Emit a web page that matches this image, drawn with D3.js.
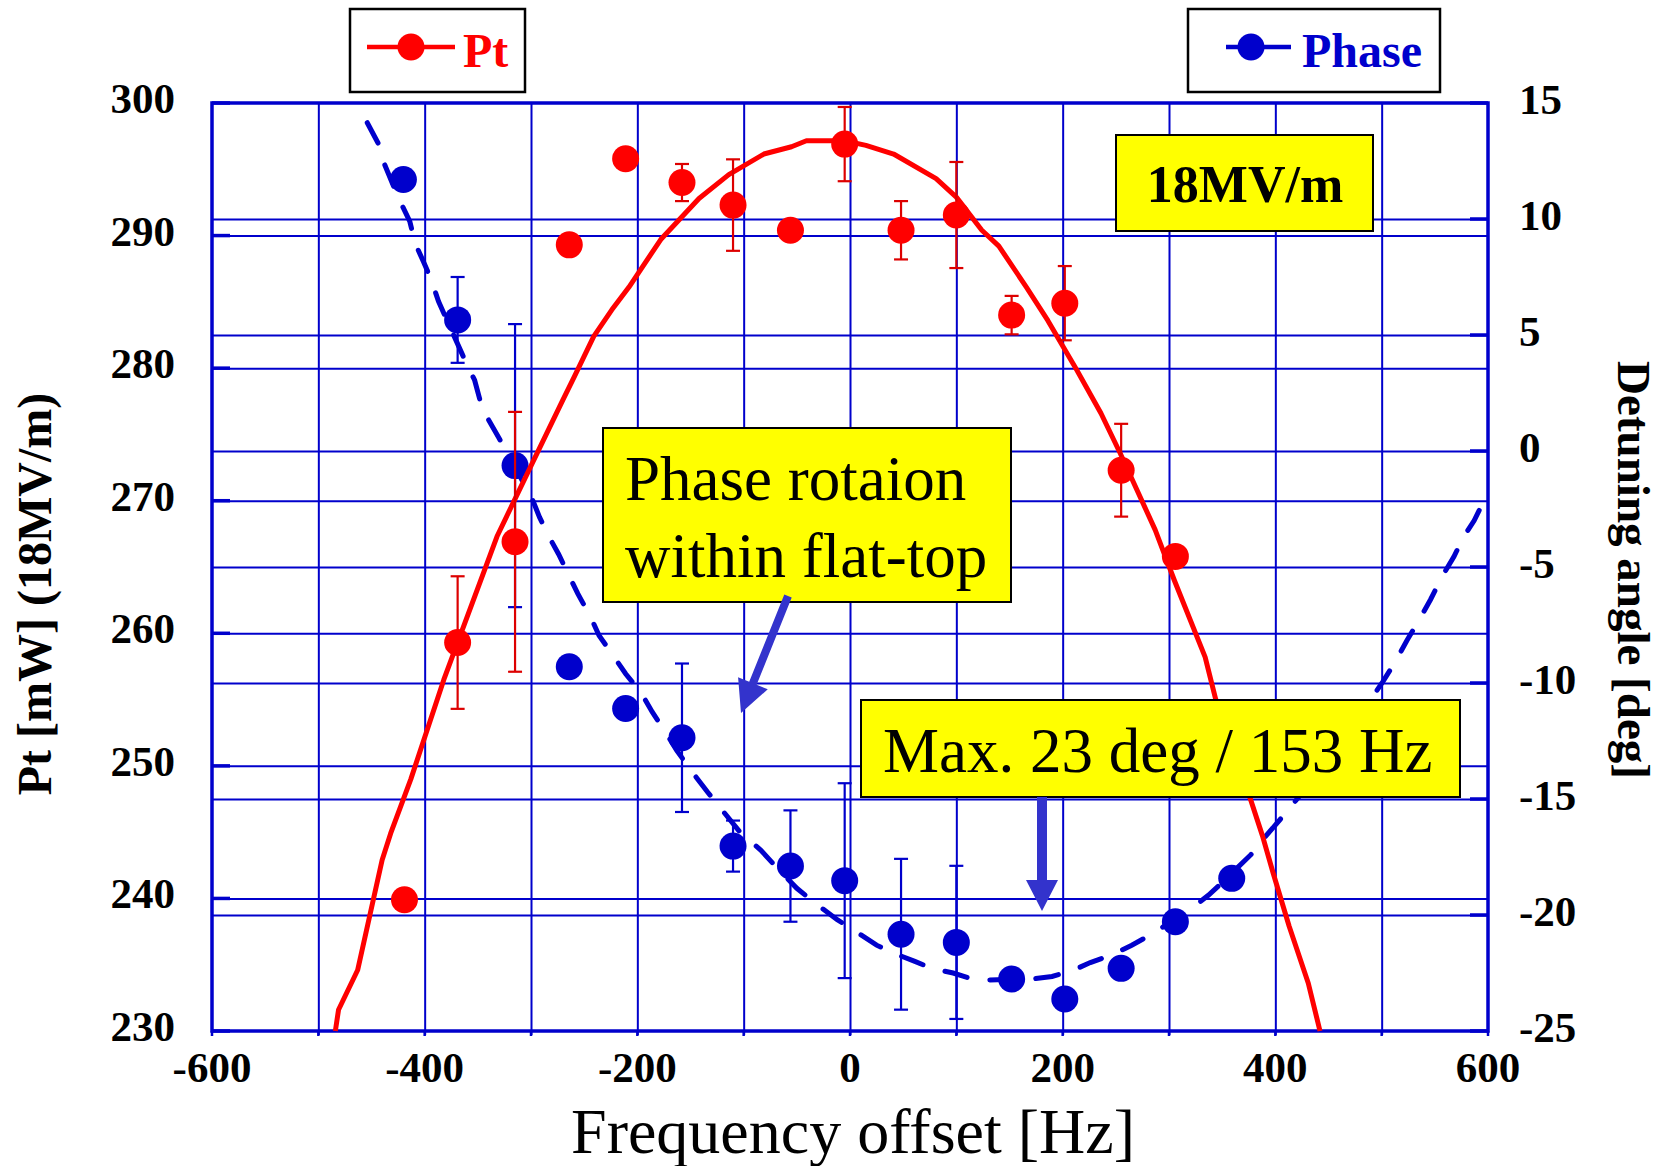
<!DOCTYPE html>
<html><head><meta charset="utf-8">
<script src="https://cdn.jsdelivr.net/npm/d3@7"></script>
<style>
html,body{margin:0;padding:0;background:#fff;}
svg{display:block;font-family:"Liberation Serif","Times New Roman",serif;}
</style></head>
<body><svg id="c" width="1663" height="1166"></svg>
<script>
// ---- data ----
const xTicks = [-600,-400,-200,0,200,400,600];
const xGrid = [-500,-400,-300,-200,-100,0,100,200,300,400,500];
const leftTicks = [230,240,250,260,270,280,290,300];
const rightTicks = [-25,-20,-15,-10,-5,0,5,10,15];

const ptX   = [-419,-369,-315,-264,-211,-158,-110,-56,-5,48,100,152,202,255,306];
const ptY   = [239.9,259.3,266.9,289.3,295.8,294.0,292.3,290.4,296.9,290.4,291.55,284.0,284.9,272.3,265.8];
const ptErr = [0,5.0,9.8,0,0,1.4,3.45,0,2.8,2.2,4.0,1.45,2.8,3.5,0];

const phX   = [-420,-369,-315,-264,-211,-158,-110,-56,-5,48,100,152,202,255,306,359];
const phY   = [11.7,5.65,-0.63,-9.3,-11.1,-12.36,-17.03,-17.89,-18.52,-20.83,-21.18,-22.76,-23.62,-22.3,-20.29,-18.42];
const phErr = [0,1.85,6.1,0,0,3.2,1.1,2.4,4.2,3.25,3.3,0,0,0,0,0];

const fitPtX = [-484,-481,-463,-440,-432,-413,-382,-332,-299,-270,-259,-241,-224,-208,-178,-142,-114,-81,-55,-41,-5,15,41,81,100,124,140,166,186,213,236,254,287,305,334,344,377,388,398,413,431,442];
const fitPtY = [230,231.6,234.6,242.9,244.9,249,256.5,267.3,272.8,277.6,279.4,282.4,284.4,286.1,289.7,292.8,294.6,296.15,296.7,297.15,297.15,296.8,296.15,294.3,292.9,290.4,289.2,286.1,283.6,279.9,276.6,273.6,267.8,264,258.2,255,247.4,244.7,241.9,237.9,233.6,230];

const fitPhX = [-454,-443,-439,-430,-423,-414,-409,-401,-394,-387,-362,-353,-348,-340,-330,-299,-292,-283,-274,-264,-256,-244,-236,-223,-211,-196,-186,-173,-163,-149,-134,-119,-104,-84,-68,-50,-31,-12,5,25,44,61,77,97,114,130,173,190,209,226,247,265,283,319,337,350,377,391,407,424,490,501,512,524,535,546,557,568,577,587,595,598];
const fitPhY = [14.15,13.2,12.5,11.5,10.75,9.9,8.95,8.15,7.4,6.45,3.9,3.05,2.2,1.35,0.55,-2.05,-2.85,-3.7,-4.45,-5.4,-6.15,-7.15,-7.95,-8.8,-9.6,-10.45,-11.25,-12.15,-12.9,-13.8,-14.7,-15.55,-16.4,-17.2,-18,-18.85,-19.55,-20.2,-20.7,-21.3,-21.7,-22,-22.3,-22.5,-22.75,-22.8,-22.75,-22.65,-22.4,-22.05,-21.7,-21.3,-20.85,-19.8,-19.15,-18.6,-17.4,-16.6,-15.75,-14.8,-10.7,-9.95,-9.15,-8.15,-7.3,-6.4,-5.4,-4.55,-3.7,-3,-2.25,-1.8];

// ---- layout ----
const L=212, R=1488, T=103, B=1031;
const BLUE="#0000cc", RED="#ff0000", RED_ERR="#dd0000", ARROW="#3333cc";
const svg = d3.select("#c");
const x = d3.scaleLinear().domain([-600,600]).range([L,R]);
const yL = d3.scaleLinear().domain([230,300]).range([B,T]);
const yR = d3.scaleLinear().domain([-25,15]).range([B,T]);

// grid via axes
const gx = svg.append("g").attr("transform",`translate(0,${B})`)
  .call(d3.axisBottom(x).tickValues(xGrid).tickSize(-(B-T)).tickSizeOuter(0).tickFormat(""));
gx.selectAll("line").attr("stroke",BLUE).attr("stroke-width",2).attr("y2",-(B-T)).attr("y1",4);
gx.select(".domain").remove();
const gl = svg.append("g").attr("transform",`translate(${L},0)`)
  .call(d3.axisLeft(yL).tickValues(leftTicks.slice(1,-1)).tickSize(-(R-L)).tickSizeOuter(0).tickFormat(""));
gl.selectAll("line").attr("stroke",BLUE).attr("stroke-width",2);
gl.select(".domain").remove();
const gr = svg.append("g").attr("transform",`translate(${R},0)`)
  .call(d3.axisRight(yR).tickValues(rightTicks.slice(1,-1)).tickSize(-(R-L)).tickSizeOuter(0).tickFormat(""));
gr.selectAll("line").attr("stroke",BLUE).attr("stroke-width",2);
gr.select(".domain").remove();
// inward tick stubs
svg.append("g").selectAll("line").data(leftTicks).join("line")
  .attr("x1",L).attr("x2",L+18).attr("y1",d=>yL(d)).attr("y2",d=>yL(d))
  .attr("stroke",BLUE).attr("stroke-width",3.5);
svg.append("g").selectAll("line").data(rightTicks).join("line")
  .attr("x1",R-18).attr("x2",R).attr("y1",d=>yR(d)).attr("y2",d=>yR(d))
  .attr("stroke",BLUE).attr("stroke-width",3.5);
// border
svg.append("rect").attr("x",L).attr("y",T).attr("width",R-L).attr("height",B-T)
  .attr("fill","none").attr("stroke",BLUE).attr("stroke-width",3.5);
svg.append("g").selectAll("line").data(xGrid.concat([-600,600])).join("line")
  .attr("x1",d=>x(d)).attr("x2",d=>x(d)).attr("y1",B).attr("y2",B+5)
  .attr("stroke",BLUE).attr("stroke-width",2.5);

// tick labels
svg.append("g").selectAll("text").data(xTicks).join("text")
  .attr("x",d=>x(d)).attr("y",1082).attr("text-anchor","middle")
  .attr("font-size",43).attr("font-weight","bold").text(d=>String(d));
svg.append("g").selectAll("text").data(leftTicks).join("text")
  .attr("x",175).attr("y",d=>yL(d)+10).attr("text-anchor","end")
  .attr("font-size",43).attr("font-weight","bold").text(d=>String(d));
svg.append("g").selectAll("text").data(rightTicks).join("text")
  .attr("x",1519).attr("y",d=>yR(d)+11).attr("text-anchor","start")
  .attr("font-size",43).attr("font-weight","bold").text(d=>String(d));

// axis titles
svg.append("text").attr("x",853).attr("y",1153).attr("text-anchor","middle")
  .attr("font-size",64).text("Frequency offset [Hz]");
svg.append("text").attr("transform","translate(51,594) rotate(-90)").attr("text-anchor","middle")
  .attr("font-size",48).attr("font-weight","bold").text("Pt [mW] (18MV/m)");
svg.append("text").attr("transform","translate(1618,570) rotate(90)").attr("text-anchor","middle")
  .attr("font-size",47).attr("font-weight","bold").text("Detuning angle [deg]");

// ---- phase series ----
const phFit = fitPhX.map((v,i)=>[v,fitPhY[i]]);
svg.append("path").datum(phFit)
  .attr("d",d3.line().x(d=>x(d[0])).y(d=>yR(d[1])).curve(d3.curveLinear))
  .attr("fill","none").attr("stroke",BLUE).attr("stroke-width",5)
  .attr("stroke-dasharray","23,23").attr("stroke-linecap","round");
const phPts = phX.map((v,i)=>({x:v,y:phY[i],e:phErr[i]}));
const phE = svg.append("g").selectAll("g").data(phPts.filter(d=>d.e>0)).join("g")
  .attr("stroke",BLUE).attr("stroke-width",2.2);
phE.append("line").attr("x1",d=>x(d.x)).attr("x2",d=>x(d.x)).attr("y1",d=>yR(d.y+d.e)).attr("y2",d=>yR(d.y-d.e));
phE.append("line").attr("x1",d=>x(d.x)-7).attr("x2",d=>x(d.x)+7).attr("y1",d=>yR(d.y+d.e)).attr("y2",d=>yR(d.y+d.e));
phE.append("line").attr("x1",d=>x(d.x)-7).attr("x2",d=>x(d.x)+7).attr("y1",d=>yR(d.y-d.e)).attr("y2",d=>yR(d.y-d.e));
svg.append("g").selectAll("circle").data(phPts).join("circle")
  .attr("cx",d=>x(d.x)).attr("cy",d=>yR(d.y)).attr("r",13.5).attr("fill",BLUE);

// ---- Pt series ----
const ptFit = fitPtX.map((v,i)=>[v,fitPtY[i]]);
svg.append("path").datum(ptFit)
  .attr("d",d3.line().x(d=>x(d[0])).y(d=>yL(d[1])).curve(d3.curveLinear))
  .attr("fill","none").attr("stroke",RED).attr("stroke-width",5).attr("stroke-linejoin","round");
const ptPts = ptX.map((v,i)=>({x:v,y:ptY[i],e:ptErr[i]}));
const ptE = svg.append("g").selectAll("g").data(ptPts.filter(d=>d.e>0)).join("g")
  .attr("stroke",RED_ERR).attr("stroke-width",2.2);
ptE.append("line").attr("x1",d=>x(d.x)).attr("x2",d=>x(d.x)).attr("y1",d=>yL(d.y+d.e)).attr("y2",d=>yL(d.y-d.e));
ptE.append("line").attr("x1",d=>x(d.x)-7).attr("x2",d=>x(d.x)+7).attr("y1",d=>yL(d.y+d.e)).attr("y2",d=>yL(d.y+d.e));
ptE.append("line").attr("x1",d=>x(d.x)-7).attr("x2",d=>x(d.x)+7).attr("y1",d=>yL(d.y-d.e)).attr("y2",d=>yL(d.y-d.e));
svg.append("g").selectAll("circle").data(ptPts).join("circle")
  .attr("cx",d=>x(d.x)).attr("cy",d=>yL(d.y)).attr("r",13.5).attr("fill",RED);

// ---- annotations ----
function box(x0,y0,x1,y1){
  svg.append("rect").attr("x",x0).attr("y",y0).attr("width",x1-x0).attr("height",y1-y0)
    .attr("fill","#ffff00").attr("stroke","#000").attr("stroke-width",2);
}
function arrow(x1,y1,x2,y2,sw,hl,hw){
  const dx=x2-x1, dy=y2-y1, len=Math.hypot(dx,dy), ux=dx/len, uy=dy/len, px=-uy, py=ux;
  const bx=x2-ux*hl, by=y2-uy*hl;
  const pts=[[x1+px*sw/2,y1+py*sw/2],[bx+px*sw/2,by+py*sw/2],[bx+px*hw,by+py*hw],[x2,y2],
             [bx-px*hw,by-py*hw],[bx-px*sw/2,by-py*sw/2],[x1-px*sw/2,y1-py*sw/2]];
  svg.append("polygon").attr("points",pts.map(p=>p.join(",")).join(" ")).attr("fill",ARROW);
}
box(1116,135,1373,231);
svg.append("text").attr("x",1245).attr("y",202).attr("text-anchor","middle")
  .attr("font-size",52).attr("font-weight","bold").text("18MV/m");

box(603,428,1011,602);
svg.append("text").attr("x",625).attr("y",500).attr("font-size",63).text("Phase rotaion");
svg.append("text").attr("x",625).attr("y",577).attr("font-size",63).text("within flat-top");
arrow(788,596,741,713,8,32,16);

box(861,700,1460,797);
svg.append("text").attr("x",883).attr("y",772).attr("font-size",63).text("Max. 23 deg / 153 Hz");
arrow(1042,797,1042,911,10,31,16);

// ---- legends ----
svg.append("rect").attr("x",350).attr("y",9).attr("width",175).attr("height",83)
  .attr("fill","#fff").attr("stroke","#000").attr("stroke-width",2.5);
svg.append("line").attr("x1",367).attr("x2",455).attr("y1",47).attr("y2",47).attr("stroke",RED).attr("stroke-width",4.5);
svg.append("circle").attr("cx",411).attr("cy",47).attr("r",13.5).attr("fill",RED);
svg.append("text").attr("x",463).attr("y",67).attr("font-size",48).attr("font-weight","bold").attr("fill",RED).text("Pt");

svg.append("rect").attr("x",1188).attr("y",9).attr("width",252).attr("height",83)
  .attr("fill","#fff").attr("stroke","#000").attr("stroke-width",2.5);
svg.append("line").attr("x1",1226).attr("x2",1291).attr("y1",47).attr("y2",47).attr("stroke",BLUE).attr("stroke-width",4.5);
svg.append("circle").attr("cx",1251).attr("cy",47).attr("r",13.5).attr("fill",BLUE);
svg.append("text").attr("x",1302).attr("y",67).attr("font-size",48).attr("font-weight","bold").attr("fill",BLUE).text("Phase");
</script>
</body></html>
